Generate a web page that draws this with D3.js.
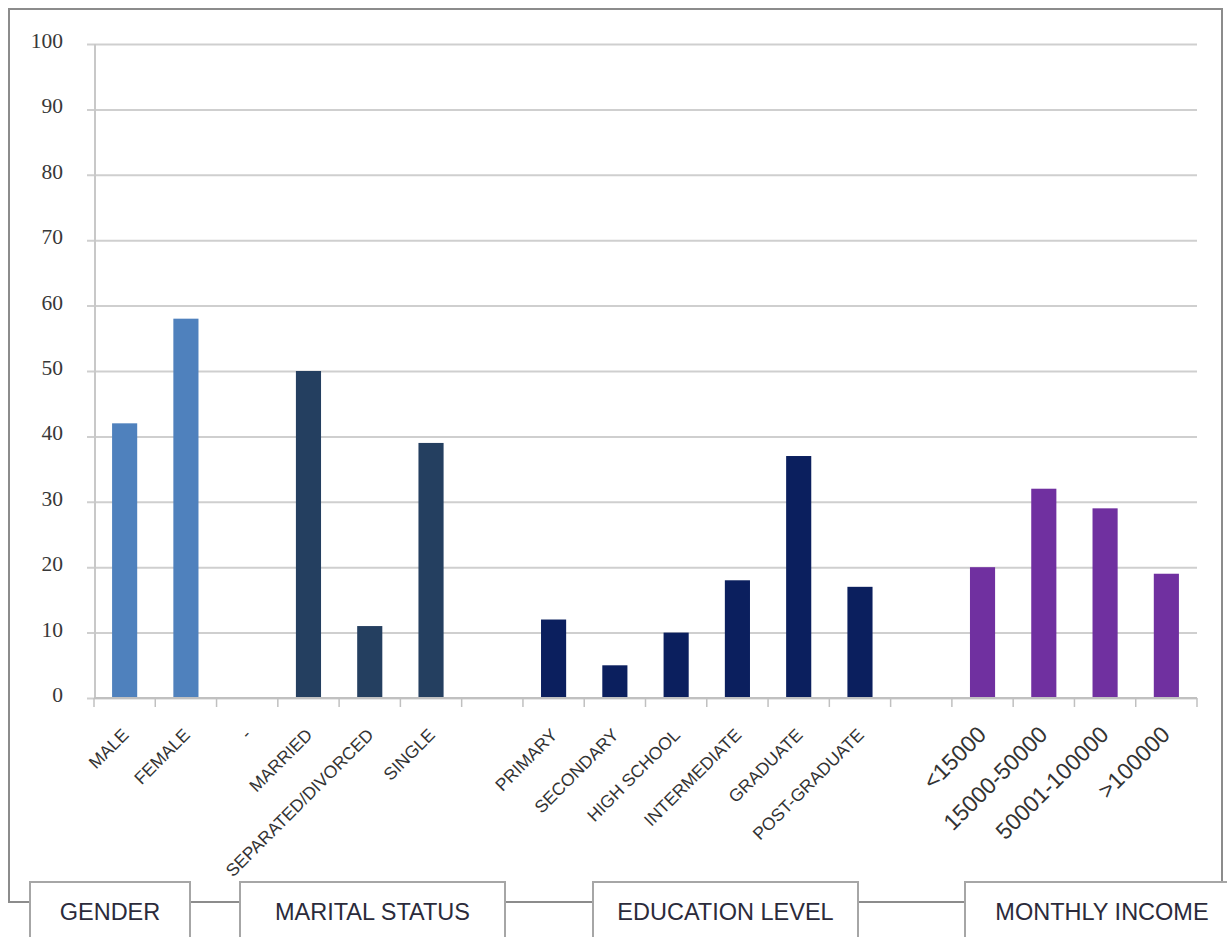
<!DOCTYPE html>
<html>
<head>
<meta charset="utf-8">
<script src="https://cdn.jsdelivr.net/npm/d3@7"></script>
<style>
  html, body { margin: 0; padding: 0; background: #fff; }
  svg { display: block; }
</style>
</head>
<body>
<svg id="chart" width="1227" height="937"></svg>
<script>
// Survey respondent profile (percent of respondents)
const categories = ["MALE", "FEMALE", "-", "MARRIED", "SEPARATED/DIVORCED", "SINGLE", "",
  "PRIMARY", "SECONDARY", "HIGH SCHOOL", "INTERMEDIATE", "GRADUATE", "POST-GRADUATE", "",
  "<15000", "15000-50000", "50001-100000", ">100000"];
const values = [42, 58, null, 50, 11, 39, null, 12, 5, 10, 18, 37, 17, null, 20, 32, 29, 19];
const groupOf = [0, 0, null, 1, 1, 1, null, 2, 2, 2, 2, 2, 2, null, 3, 3, 3, 3];
const groupNames = ["GENDER", "MARITAL STATUS", "EDUCATION LEVEL", "MONTHLY INCOME"];
const groupColors = ["#4f81bd", "#243f60", "#0b1f5e", "#7030a0"];
const yTicks = [0, 10, 20, 30, 40, 50, 60, 70, 80, 90, 100];

const svg = d3.select("#chart");

// plot geometry
const plot = { left: 94, right: 1197, top: 44, bottom: 698 };

const x = d3.scaleBand()
  .domain(d3.range(categories.length))
  .range([plot.left, plot.right])
  .paddingInner(0.59)
  .paddingOuter(0.295);

const xEdges = d3.scaleLinear()
  .domain([0, categories.length])
  .range([plot.left, plot.right]);

const y = d3.scaleLinear().domain([0, 100]).range([plot.bottom, plot.top]);

// outer frame
svg.append("rect")
  .attr("x", 9).attr("y", 9)
  .attr("width", 1213).attr("height", 893)
  .attr("fill", "#fff")
  .attr("stroke", "#8c8c8c")
  .attr("stroke-width", 2);

// horizontal gridlines (extend left past the axis as tick marks)
const yAxis = d3.axisLeft(y)
  .tickValues(yTicks)
  .tickSize(-(plot.right - plot.left))
  .tickFormat("");
const gy = svg.append("g")
  .attr("transform", `translate(${plot.left},0)`)
  .call(yAxis);
gy.select(".domain").remove();
gy.selectAll(".tick line")
  .attr("x1", -7)
  .attr("stroke", "#cfcfcf")
  .attr("stroke-width", 2);

// y tick labels
svg.append("g").selectAll("text")
  .data(yTicks)
  .join("text")
  .attr("x", 63)
  .attr("y", d => y(d) + 4)
  .attr("text-anchor", "end")
  .attr("font-family", "Liberation Serif, serif")
  .attr("font-size", 21.5)
  .attr("fill", "#383838")
  .text(d => d);

// y axis line
svg.append("line")
  .attr("x1", plot.left + 1).attr("x2", plot.left + 1)
  .attr("y1", plot.top).attr("y2", plot.bottom)
  .attr("stroke", "#c8c8c8").attr("stroke-width", 2);

// bars
svg.append("g").selectAll("rect")
  .data(values.map((v, i) => ({ v, i })).filter(d => d.v !== null))
  .join("rect")
  .attr("x", d => x(d.i))
  .attr("width", x.bandwidth())
  .attr("y", d => y(d.v))
  .attr("height", d => y(0) - y(d.v))
  .attr("fill", d => groupColors[groupOf[d.i]]);

// x axis line and category boundary ticks
svg.append("line")
  .attr("x1", plot.left).attr("x2", plot.right)
  .attr("y1", plot.bottom).attr("y2", plot.bottom)
  .attr("stroke", "#c0c0c0").attr("stroke-width", 2);
svg.append("g").selectAll("line")
  .data(d3.range(categories.length + 1))
  .join("line")
  .attr("x1", d => xEdges(d)).attr("x2", d => xEdges(d))
  .attr("y1", plot.bottom).attr("y2", plot.bottom + 9)
  .attr("stroke", "#c0c0c0").attr("stroke-width", 1.5);

// rotated category labels
svg.append("g").selectAll("text")
  .data(categories.map((c, i) => ({ c, i })).filter(d => d.c !== ""))
  .join("text")
  .attr("transform", d => `translate(${x(d.i) + x.bandwidth() / 2 + 5},${plot.bottom + 38}) rotate(-45)`)
  .attr("text-anchor", "end")
  .attr("font-family", "Liberation Sans, Arial, sans-serif")
  .attr("font-size", d => groupOf[d.i] === 3 ? 23 : 17.5)
  .attr("fill", "#333333")
  .text(d => d.c);

// group caption boxes along the bottom of the frame
const boxes = [
  { x0: 30, x1: 190 },
  { x0: 240, x1: 505 },
  { x0: 593, x1: 858 },
  { x0: 965, x1: 1239 }
];
const gBox = svg.append("g").selectAll("g")
  .data(groupNames.map((name, k) => ({ name, b: boxes[k] })))
  .join("g");
gBox.append("rect")
  .attr("x", d => d.b.x0).attr("y", 882)
  .attr("width", d => d.b.x1 - d.b.x0).attr("height", 80)
  .attr("fill", "#fff")
  .attr("stroke", "#a6a6a6").attr("stroke-width", 2);
gBox.append("text")
  .attr("x", d => (d.b.x0 + d.b.x1) / 2)
  .attr("y", 920)
  .attr("text-anchor", "middle")
  .attr("font-family", "Liberation Sans, Arial, sans-serif")
  .attr("font-size", 23.5)
  .attr("fill", "#2b2b3b")
  .text(d => d.name);
</script>
</body>
</html>
